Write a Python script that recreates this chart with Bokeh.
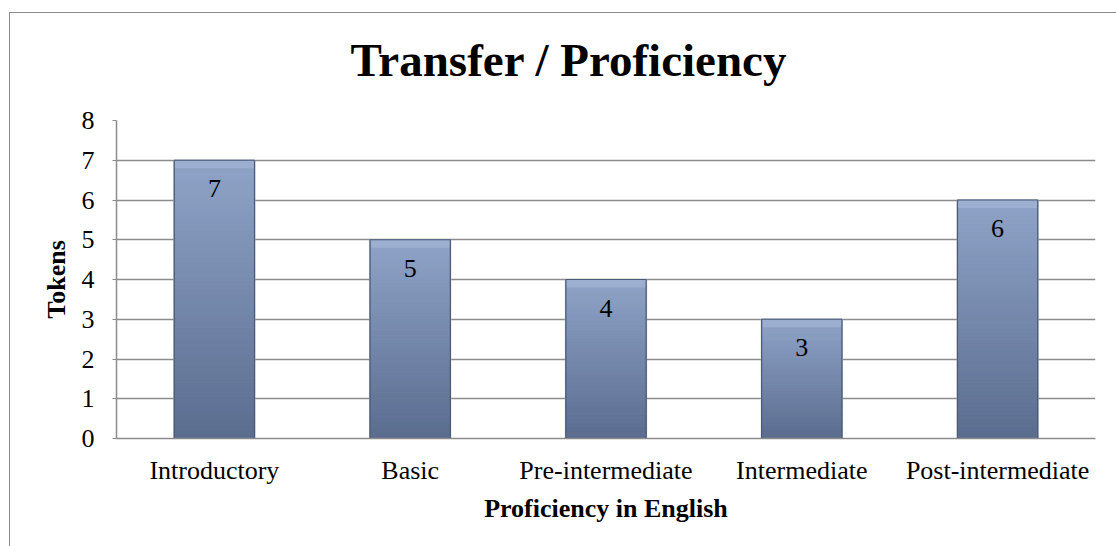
from bokeh.plotting import figure
from bokeh.models import ColumnDataSource, LabelSet, FixedTicker
from bokeh.core.properties import value
from bokeh.embed import file_html
from bokeh.resources import INLINE

# ---- data ----
categories = ["Introductory", "Basic", "Pre-intermediate", "Intermediate", "Post-intermediate"]
tokens = [7, 5, 4, 3, 6]
y_ticks = [0, 1, 2, 3, 4, 5, 6, 7, 8]

title_text = "Transfer / Proficiency"
x_label = "Proficiency in English"
y_label = "Tokens"

FONT = "Liberation Serif"
BORDER = "#8c8c8c"

p = figure(
    x_range=categories, y_range=(0, 8),
    width=1107, height=546,
    output_backend="svg", toolbar_location=None,
    min_border_left=107, min_border_right=21,
    min_border_top=120, min_border_bottom=108,
    margin=(0, 0, 0, 9),
    styles={
        "background-color": "white",
        "background-image": f"linear-gradient({BORDER},{BORDER}), linear-gradient({BORDER},{BORDER})",
        "background-size": "100% 1px, 1px 100%",
        "background-position": "0 12px, 0 12px",
        "background-repeat": "no-repeat",
    },
)
p.x_range.range_padding = 0
p.outline_line_color = None
p.background_fill_color = "white"
p.border_fill_color = None
p.border_fill_alpha = 0

# title
p.title.text = title_text
p.title.align = "left"
p.title.offset = 234
p.title.vertical_align = "top"
p.title.text_font = FONT
p.title.text_font_size = "47px"
p.title.text_font_style = "bold"
p.title.text_color = "black"
p.title.standoff = 66

# gradient bars built from data
def lerp(c1, c2, t):
    a = [int(c1[i:i + 2], 16) for i in (1, 3, 5)]
    b = [int(c2[i:i + 2], 16) for i in (1, 3, 5)]
    return "#%02x%02x%02x" % tuple(int(round(a[k] + (b[k] - a[k]) * t)) for k in range(3))

bottom_col = "#5b6d8f"
top_col = "#8ea3c7"
N = 60
BW = 0.41

# soft shadow
p.vbar(x=categories, top=tokens, width=BW + 0.012, bottom=0, fill_color="#c9ccd2",
       line_color=None, fill_alpha=0.6)

xs, tops, bots, cols = [], [], [], []
for c, v in zip(categories, tokens):
    for i in range(N):
        xs.append(c)
        bots.append(v * i / N)
        tops.append(v * (i + 1) / N)
        cols.append(lerp(bottom_col, top_col, i / (N - 1)))
p.vbar(x=xs, bottom=bots, top=tops, width=BW, fill_color=cols, line_color=cols, line_width=1)

# bevel highlights (top band) and edge darkening
bev = 0.2
p.vbar(x=categories, top=tokens, bottom=[v - bev for v in tokens], width=BW,
       fill_color="#a9bad8", fill_alpha=0.55, line_color=None)
p.vbar(x=categories, top=tokens, bottom=0, width=BW, fill_color=None,
       line_color="#4a5a77", line_width=1.2)

# value labels
src = ColumnDataSource(dict(x=categories, y=tokens, t=[str(v) for v in tokens]))
labels = LabelSet(x="x", y="y", text="t", source=src, y_offset=-37,
                  text_align="center", text_baseline="alphabetic",
                  text_font=value(FONT), text_font_size=value("26px"), text_color="black")
p.add_layout(labels)

# grid
p.xgrid.grid_line_color = None
p.ygrid.grid_line_color = BORDER
p.ygrid.grid_line_width = 1.5
p.yaxis.ticker = FixedTicker(ticks=y_ticks)

# axes
for ax in (p.xaxis[0], p.yaxis[0]):
    ax.axis_line_color = BORDER
    ax.axis_line_width = 1.5
    ax.major_label_text_font = FONT
    ax.major_label_text_font_size = "26px"
    ax.major_label_text_color = "black"
    ax.axis_label_text_font = FONT
    ax.axis_label_text_font_size = "26px"
    ax.axis_label_text_font_style = "bold"
    ax.axis_label_text_color = "black"
    ax.minor_tick_line_color = None

p.xaxis.major_tick_line_color = None
p.xaxis.major_tick_out = 0
p.xaxis.major_label_standoff = 17
p.xaxis.axis_label = x_label
p.xaxis.axis_label_standoff = 6

p.yaxis.major_tick_line_color = BORDER
p.yaxis.major_tick_out = 4
p.yaxis.major_tick_in = 0
p.yaxis.major_label_standoff = 18
p.yaxis.axis_label = y_label
p.yaxis.axis_label_standoff = 8

open("out.html", "w").write(file_html(p, INLINE))
